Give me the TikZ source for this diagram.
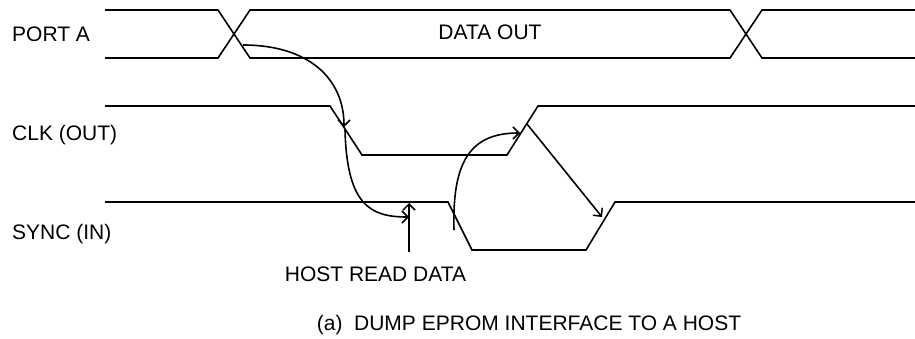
\documentclass[tikz,border=0pt]{standalone}
\usepackage{fontspec}
\setmainfont{Liberation Sans}
\usetikzlibrary{arrows.meta}
\tikzset{
  sig/.style={line width=1.6pt, line join=miter},
  arr/.style={line width=1.6pt, -{Straight Barb[length=6pt,width=12pt,line width=1.5pt]}},
  lbl/.style={font=\fontsize{21}{25}\selectfont, inner sep=0pt, anchor=base west},
  ctr/.style={font=\fontsize{21}{25}\selectfont, inner sep=0pt, anchor=base},
}
\begin{document}
\begin{tikzpicture}[x=1pt,y=-1pt]
\useasboundingbox (0,0) rectangle (915,339);
% labels
\node[lbl] (lport) at (12,42) {PORT A};
\node[lbl] (lclk) at (12,141) {CLK (OUT)};
\node[lbl] (lsync) at (12,239.5) {SYNC (IN)};
\node[ctr] (ldata) at (490,40) {DATA OUT};
\node[ctr] (lhost) at (375.5,281.7) {HOST READ DATA};
\node[ctr] (lcap) at (529,330) {(a)\ \ DUMP EPROM INTERFACE TO A HOST};
% PORT A bus
\draw[sig] (105,10) -- (218,10) -- (250,58) -- (730,58) -- (762,10) -- (915,10);
\draw[sig] (105,58) -- (218,58) -- (250,10) -- (730,10) -- (762,58) -- (915,58);
% CLK
\draw[sig] (105,106) -- (330,106) -- (362,155) -- (507,155) -- (538,106) -- (915,106);
% SYNC
\draw[sig] (105,202) -- (448,202) -- (472,250) -- (586,250) -- (615,202) -- (915,202);
% anchor points for connectors
\coordinate (pa) at (243,45);
\coordinate (cf) at (344,127);
\coordinate (cfs) at (345,130);
\coordinate (hr) at (409,217);
\coordinate (hb) at (409,252);
\coordinate (ht) at (409,203);
\coordinate (sf) at (454,230);
\coordinate (cr) at (520,133);
\coordinate (crs) at (527,124);
\coordinate (sr) at (602,217);
% connectors
\draw[arr] (pa) .. controls (308,45) and (344,78) .. (cf);
\draw[arr] (cfs) .. controls (347,205) and (370,217) .. (hr);
\draw[arr] (hb) -- (ht);
\draw[arr] (sf) .. controls (452,162) and (470,133) .. (cr);
\draw[arr] (crs) -- (sr);
\end{tikzpicture}
\end{document}
